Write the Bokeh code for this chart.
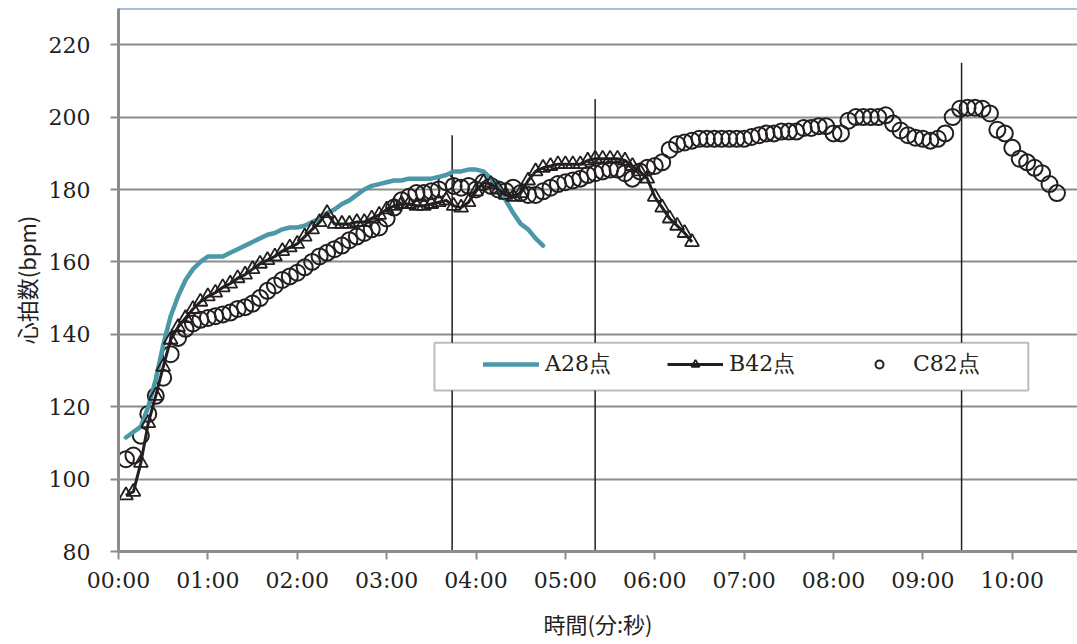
from bokeh.plotting import figure
from bokeh.models import (Range1d, FixedTicker, Span, Legend, LegendItem,
                          BoxAnnotation, ColumnDataSource)
from bokeh.embed import file_html
from bokeh.resources import INLINE

# ---------------- data (heart rate, bpm, sampled every 5 seconds) ----------------
interval_sec = 5
hr_A28 = [111.5, 113, 114.5, 120, 127.5, 137, 145, 150.5, 155, 158,
          160, 161.5, 161.5, 161.5, 162.5, 163.5, 164.5, 165.5, 166.5, 167.5,
          168, 169, 169.5, 169.5, 170, 171, 172, 173.5, 174.5, 176,
          177, 178.5, 180, 181, 181.5, 182, 182.5, 182.5, 183, 183,
          183, 183, 183.5, 184, 185, 185, 185.5, 185.5, 185, 183,
          180.5, 177, 173.5, 170.5, 169, 166.5, 164.5]
hr_B42 = [95.5, 96.5, 104.5, 115.5, 123, 131, 138.5, 142, 144.5, 147,
          149, 150.5, 151.5, 153, 154, 155.5, 156.5, 158, 159.5, 160.5,
          161.5, 163, 164, 165, 167, 169, 171, 173.5, 170.5, 170.5,
          170.5, 171, 171, 172, 173, 174.5, 175.5, 176, 176, 175.5,
          175.5, 176, 176.5, 177, 175.5, 175, 176.5, 179.5, 182, 181.5,
          180, 178.5, 178, 179, 182.5, 185, 186, 186.5, 187, 187,
          187, 187, 188, 188.5, 188.5, 188.5, 188.5, 188, 186.5, 185,
          183, 178, 175, 172, 170, 168, 165.5]
hr_C82 = [105.5, 106.5, 112, 118, 123, 128, 134.5, 139, 141.5, 143,
          144, 144.5, 145, 145.5, 146, 147, 147.5, 148.5, 150, 152,
          153.5, 155, 156, 157, 158.5, 160, 161.5, 162.5, 163.5, 164.5,
          166, 167, 168, 169, 169.5, 172, 175, 177, 178, 179,
          179, 179.5, 180, 182, 181, 180.5, 181, 180, 182, 181,
          180, 179.5, 180.5, 179, 178.5, 178.5, 179.5, 180.5, 181.5, 182,
          182.5, 183, 184, 184.5, 185, 185.5, 185.5, 184.5, 183, 185,
          186, 186.5, 187.5, 191, 192.5, 193, 193.5, 194, 194, 194,
          194, 194, 194, 194, 194.5, 195, 195.5, 195.5, 196, 196,
          196, 197, 197, 197.5, 197.5, 195.5, 195.5, 199, 200, 200,
          200, 200, 200.5, 198.2, 196.3, 195, 194.3, 194, 193.5, 194,
          195.5, 200, 202.3, 202.6, 202.6, 202.3, 201, 196.5, 195.5, 191.5,
          188.5, 187.5, 186, 184.5, 181.5, 179]

series_names = ["A28点", "B42点", "C82点"]

# vertical marker lines (time in minutes, top value in bpm)
marker_times = [3.733, 5.333, 9.433]
marker_tops = [195, 205, 215]

x_ticks = list(range(0, 11))
x_tick_labels = ["00:00", "01:00", "02:00", "03:00", "04:00", "05:00",
                 "06:00", "07:00", "08:00", "09:00", "10:00"]
y_ticks = [80, 100, 120, 140, 160, 180, 200, 220]


def minutes(values):
    return [(i + 1) * interval_sec / 60.0 for i in range(len(values))]


# ---------------- figure ----------------
INK = "#231f20"
GRID = "#8c8c8c"
TEAL = "#4a98a8"
CJK = "Noto Sans CJK JP"
SERIF = "DejaVu Serif"

p = figure(width=1077, height=644, output_backend="svg", toolbar_location=None,
           x_range=Range1d(0, 10.73), y_range=Range1d(80, 230),
           min_border_left=118, min_border_right=0, min_border_top=8,
           min_border_bottom=93)
p.outline_line_color = None
p.background_fill_color = "white"
p.border_fill_color = "white"

# grid
p.xgrid.visible = False
p.ygrid.ticker = FixedTicker(ticks=y_ticks)
p.ygrid.grid_line_color = GRID
p.ygrid.grid_line_width = 2

# axes
p.xaxis.ticker = FixedTicker(ticks=x_ticks)
p.xaxis.major_label_overrides = {t: lab for t, lab in zip(x_ticks, x_tick_labels)}
p.yaxis.ticker = FixedTicker(ticks=y_ticks)
for ax in (p.xaxis[0], p.yaxis[0]):
    ax.axis_line_color = GRID
    ax.axis_line_width = 3
    ax.major_tick_line_color = GRID
    ax.major_tick_line_width = 2
    ax.major_tick_in = 0
    ax.major_tick_out = 8
    ax.minor_tick_line_color = None
    ax.major_label_text_font = SERIF
    ax.major_label_text_font_size = "22px"
    ax.major_label_text_color = INK
    ax.axis_label_text_font = CJK
    ax.axis_label_text_font_size = "22px"
    ax.axis_label_text_font_style = "normal"
    ax.axis_label_text_color = INK
p.xaxis.major_label_standoff = 8
p.yaxis.major_label_standoff = 20
p.xaxis.axis_label = "時間(分:秒)"
p.yaxis.axis_label = "心拍数(bpm)"
p.xaxis.axis_label_standoff = 11
p.yaxis.axis_label_standoff = 4

# top border
p.add_layout(Span(location=230, dimension="width", line_color="#4f81bd", line_width=2))

# marker lines
p.segment(x0=marker_times, y0=[80] * len(marker_times), x1=marker_times, y1=marker_tops,
          line_color=INK, line_width=1.5)

# series
srcA = ColumnDataSource(dict(t=minutes(hr_A28), hr=hr_A28))
srcB = ColumnDataSource(dict(t=minutes(hr_B42), hr=hr_B42))
srcC = ColumnDataSource(dict(t=minutes(hr_C82), hr=hr_C82))

rC = p.scatter("t", "hr", source=srcC, marker="circle", size=16, fill_color=None,
               line_color=INK, line_width=2)
rA = p.line("t", "hr", source=srcA, line_color=TEAL, line_width=4.5, line_cap="round",
            line_join="round")
rB_line = p.line("t", "hr", source=srcB, line_color=INK, line_width=3, line_join="round")
rB_pts = p.scatter("t", "hr", source=srcB, marker="triangle", size=14, fill_color=None,
                   line_color=INK, line_width=1.8)

# legend frame + legend
p.add_layout(BoxAnnotation(left=3.535, right=10.18, bottom=124.5, top=137.7,
                           fill_color="white", fill_alpha=1.0,
                           line_color=INK, line_width=2))
legend = Legend(items=[LegendItem(label=series_names[0], renderers=[rA]),
                       LegendItem(label=series_names[1], renderers=[rB_line, rB_pts]),
                       LegendItem(label=series_names[2], renderers=[rC])],
                orientation="horizontal", location=(365, 172),
                background_fill_alpha=0, border_line_alpha=0, padding=0, margin=0,
                spacing=52, glyph_width=56, glyph_height=20, label_standoff=6,
                label_width=70, label_text_font=SERIF,
                label_text_font_size="22px", label_text_color=INK)
p.add_layout(legend)

open("out.html", "w").write(file_html(p, INLINE))
